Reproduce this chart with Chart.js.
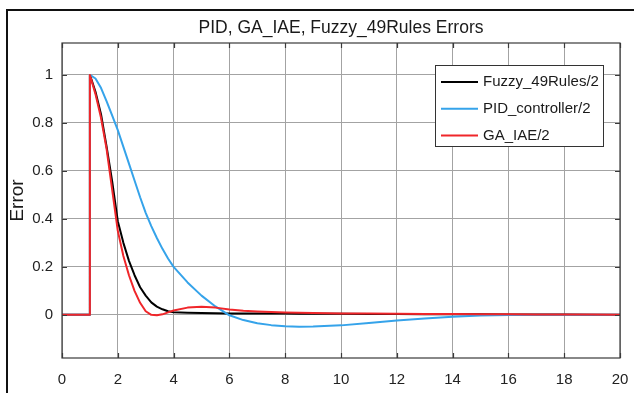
<!DOCTYPE html>
<html>
<head>
<meta charset="utf-8">
<script src="https://cdn.jsdelivr.net/npm/chart.js@4.4.0/dist/chart.umd.min.js"></script>
<style>
  html, body { margin: 0; padding: 0; background: #fff; }
  #wrap { width: 634px; height: 393px; position: relative; }
</style>
</head>
<body>
<div id="wrap"><canvas id="graficoErrores"></canvas></div>
<script>
// time axis (s) shared by all three series
const tiempo = [0, 1, 1, 1.2, 1.4, 1.6, 1.8, 2, 2.2, 2.4, 2.6, 2.8, 3, 3.2, 3.4, 3.6, 3.8, 4,
    4.5, 5, 5.5, 6, 6.5, 7, 7.5, 8, 8.5, 9, 10, 11, 12, 13, 14, 15, 16, 17, 18, 19, 20];

const errorFuzzy = [0, 0, 1, 0.93, 0.835, 0.70, 0.555, 0.39, 0.30, 0.225, 0.165, 0.115, 0.08, 0.052, 0.034, 0.023, 0.015, 0.011,
    0.009, 0.008, 0.007, 0.006, 0.006, 0.005, 0.005, 0.005, 0.004, 0.004, 0.004, 0.003, 0.003, 0.002, 0.002, 0.002, 0.001, 0.001, 0.001, 0, 0];

const errorPID = [0, 0, 1, 0.985, 0.945, 0.89, 0.83, 0.77, 0.70, 0.63, 0.56, 0.49, 0.425, 0.37, 0.32, 0.275, 0.235, 0.2,
    0.135, 0.08, 0.035, -0.002, -0.022, -0.035, -0.043, -0.048, -0.05, -0.049, -0.044, -0.034, -0.024, -0.015, -0.008, -0.003, -0.001, 0, 0, 0, 0];

const errorGA = [0, 0, 1, 0.92, 0.82, 0.69, 0.52, 0.35, 0.245, 0.165, 0.10, 0.05, 0.015, 0.0, -0.002, 0.002, 0.01, 0.018,
    0.03, 0.034, 0.03, 0.022, 0.017, 0.014, 0.012, 0.01, 0.009, 0.008, 0.006, 0.005, 0.004, 0.003, 0.003, 0.002, 0.002, 0.001, 0.001, 0.001, 0];

const nombres = ['Fuzzy_49Rules/2', 'PID_controller/2', 'GA_IAE/2'];
const colores = ['#000000', '#35a3ea', '#f0262a'];
const titulo = 'PID, GA_IAE, Fuzzy_49Rules Errors';

const puntos = serie => tiempo.map((t, i) => ({ x: t, y: serie[i] }));

// title centred over the axes, box, inward ticks, legend and outer frame (MATLAB look)
const estiloMatlab = {
    id: 'estiloMatlab',
    afterDraw(chart) {
        const ctx = chart.ctx;
        const a = chart.chartArea;
        const xs = chart.scales.x;
        const ys = chart.scales.y;
        ctx.save();

        // plot box
        ctx.strokeStyle = '#3a3a3a';
        ctx.lineWidth = 1.2;
        ctx.strokeRect(a.left, a.top, a.right - a.left, a.bottom - a.top);

        // inward tick marks
        ctx.beginPath();
        xs.ticks.forEach(t => {
            const px = Math.round(xs.getPixelForValue(t.value)) + 0.5;
            ctx.moveTo(px, a.bottom); ctx.lineTo(px, a.bottom - 5);
            ctx.moveTo(px, a.top); ctx.lineTo(px, a.top + 5);
        });
        ys.ticks.forEach(t => {
            const py = Math.round(ys.getPixelForValue(t.value)) + 0.5;
            ctx.moveTo(a.left, py); ctx.lineTo(a.left + 5, py);
            ctx.moveTo(a.right, py); ctx.lineTo(a.right - 5, py);
        });
        ctx.stroke();

        // title
        ctx.fillStyle = '#1a1a1a';
        ctx.font = '17.5px "Liberation Sans", Arial, sans-serif';
        ctx.textAlign = 'center';
        ctx.textBaseline = 'middle';
        ctx.fillText(titulo, (a.left + a.right) / 2, 28);

        // legend
        const lx = 435, ly = 65, lw = 168, lh = 81;
        ctx.fillStyle = '#ffffff';
        ctx.fillRect(lx, ly, lw, lh);
        ctx.strokeStyle = '#333333';
        ctx.lineWidth = 1;
        ctx.strokeRect(lx + 0.5, ly + 0.5, lw, lh);
        ctx.font = '15px "Liberation Sans", Arial, sans-serif';
        ctx.textAlign = 'left';
        chart.data.datasets.forEach((ds, i) => {
            const fy = ly + 17 + i * 26.7;
            ctx.strokeStyle = ds.borderColor;
            ctx.lineWidth = 2;
            ctx.beginPath();
            ctx.moveTo(lx + 6, fy); ctx.lineTo(lx + 43, fy);
            ctx.stroke();
            ctx.fillStyle = '#1a1a1a';
            ctx.fillText(ds.label, lx + 48, fy);
        });

        // outer frame
        ctx.strokeStyle = '#111111';
        ctx.lineWidth = 2;
        ctx.strokeRect(7, 10, 700, 500);
        ctx.restore();
    }
};

const ctx = document.getElementById('graficoErrores').getContext('2d');

new Chart(ctx, {
    type: 'line',
    data: {
        datasets: [
            { label: nombres[0], data: puntos(errorFuzzy), borderColor: colores[0], order: 2 },
            { label: nombres[1], data: puntos(errorPID), borderColor: colores[1], order: 1 },
            { label: nombres[2], data: puntos(errorGA), borderColor: colores[2], order: 0 }
        ]
    },
    options: {
        responsive: true,
        maintainAspectRatio: false,
        animation: false,
        devicePixelRatio: 1,
        layout: { padding: { left: 0, right: 14, top: 43, bottom: 0 } },
        elements: {
            point: { radius: 0 },
            line: { borderWidth: 2, tension: 0, fill: false, borderJoinStyle: 'round', borderCapStyle: 'round' }
        },
        plugins: {
            legend: { display: false },
            tooltip: { enabled: false },
            title: { display: false }
        },
        scales: {
            x: {
                type: 'linear',
                min: 0,
                max: 20,
                ticks: {
                    stepSize: 2,
                    padding: 13,
                    color: '#222',
                    font: { family: '"Liberation Sans", Arial, sans-serif', size: 15 }
                },
                grid: { color: '#a3a3a3', drawTicks: false },
                border: { display: false },
                afterFit: scale => {
                    scale.height = 35;
                    scale.paddingLeft = 0;
                    scale.paddingRight = 0;
                }
            },
            y: {
                min: -0.18,
                max: 1.133,
                ticks: {
                    stepSize: 0.2,
                    includeBounds: false,
                    padding: 9,
                    color: '#222',
                    font: { family: '"Liberation Sans", Arial, sans-serif', size: 15 },
                    callback: v => String(+v.toFixed(1))
                },
                grid: { color: '#a3a3a3', drawTicks: false },
                border: { display: false },
                title: {
                    display: true,
                    text: 'Error',
                    color: '#1a1a1a',
                    padding: { top: 6, bottom: 0 },
                    font: { family: '"Liberation Sans", Arial, sans-serif', size: 19, lineHeight: 1.2 }
                },
                afterFit: scale => {
                    scale.width = 62;
                    scale.paddingTop = 0;
                    scale.paddingBottom = 0;
                }
            }
        }
    },
    plugins: [estiloMatlab]
});
</script>
</body>
</html>
